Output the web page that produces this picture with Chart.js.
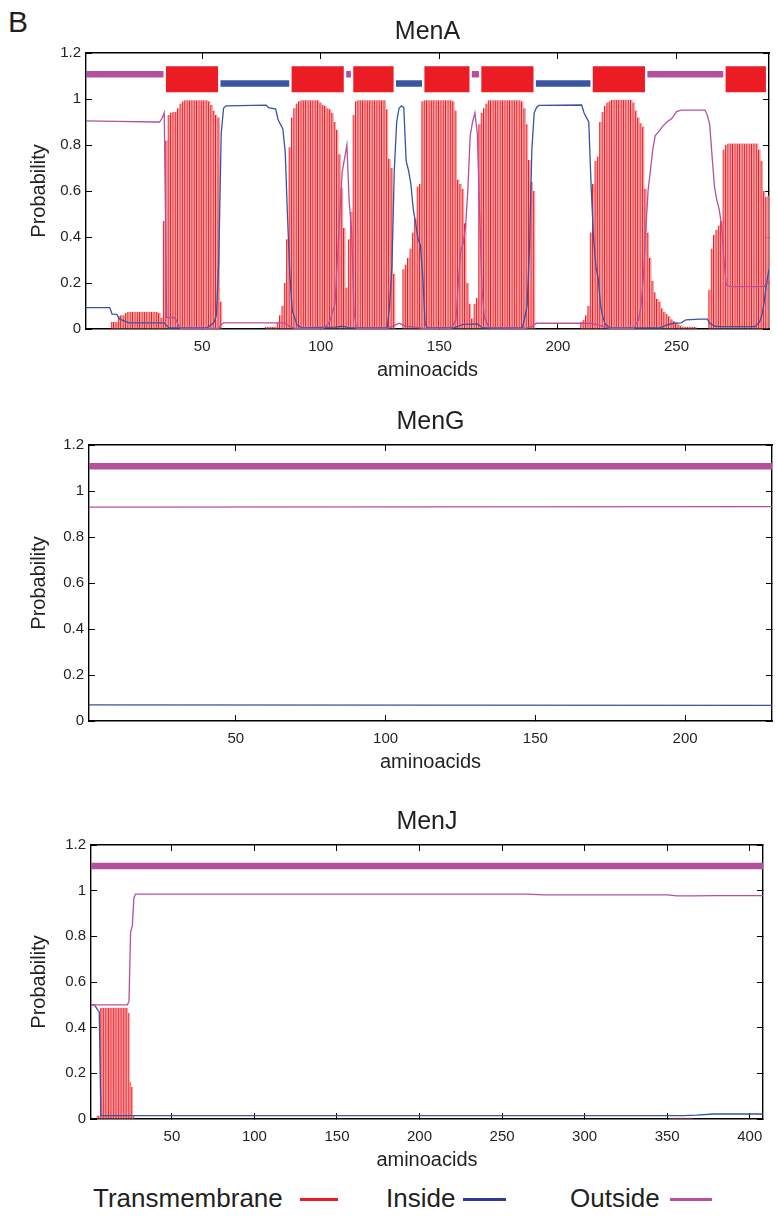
<!DOCTYPE html>
<html>
<head>
<meta charset="utf-8">
<script src="https://cdn.jsdelivr.net/npm/chart.js@4.4.1/dist/chart.umd.min.js"></script>
<style>
  html, body { margin: 0; padding: 0; background: #fff; }
  body { width: 777px; height: 1221px; position: relative; overflow: hidden;
         font-family: 'Liberation Sans', Arial, Helvetica, sans-serif; color: #231f20; }
  .panel { position: absolute; left: 0; width: 777px; height: 390px; }
  .txt { position: absolute; white-space: nowrap; line-height: 1; }
  .key { position: absolute; height: 3px; }
</style>
</head>
<body>
<div class="txt" style="left:8px;top:7px;font-size:30px">B</div>
<div class="panel" style="top:0"><canvas id="menA"></canvas></div>
<div class="panel" style="top:392px"><canvas id="menG"></canvas></div>
<div class="panel" style="top:792px"><canvas id="menJ"></canvas></div>

<div class="txt" style="left:93px;top:1185px;font-size:26px">Transmembrane</div>
<div class="key" style="left:300px;top:1198px;width:38px;background:#ec1c24"></div>
<div class="txt" style="left:386px;top:1185px;font-size:26px">Inside</div>
<div class="key" style="left:463px;top:1198px;width:43px;background:#2e3a94"></div>
<div class="txt" style="left:570px;top:1185px;font-size:26px">Outside</div>
<div class="key" style="left:670px;top:1198px;width:42px;background:#b6509e"></div>

<script>
/* Probabilidades de topologia transmembrana — MenA, MenG, MenJ */

const FONT = "'Liberation Sans', Arial, Helvetica, sans-serif";
const INK = '#231f20';
const RED = '#ec1c24';
const PINK = '#f7a3a5';
const BLUE = '#3653a5';
const MAGENTA = '#b6509e';

const Y_TICKS = [0, 0.2, 0.4, 0.6, 0.8, 1, 1.2];
const Y_TICK_LABELS = ['0', '0.2', '0.4', '0.6', '0.8', '1', '1.2'];

// ---- MenA (289 aa) ----
const MENA_RANGE = [1, 289];
const MENA_XTICKS = [50, 100, 150, 200, 250];
// transmembrane probability, residue 1..289
const MENA_TM = [
  0, 0, 0, 0, 0, 0, 0, 0, 0, 0,
  0, 0.03, 0.03, 0.03, 0.055, 0.06, 0.06, 0.07, 0.075, 0.075,
  0.075, 0.075, 0.075, 0.075, 0.075, 0.075, 0.075, 0.075, 0.075, 0.075,
  0.075, 0.07, 0.05, 0.47, 0.82, 0.93, 0.94, 0.945, 0.945, 0.96,
  0.98, 0.99, 0.995, 0.995, 0.995, 0.995, 0.995, 0.995, 0.995, 0.995,
  0.995, 0.995, 0.99, 0.975, 0.95, 0.93, 0.92, 0.12, 0, 0,
  0, 0, 0, 0, 0, 0, 0, 0, 0, 0,
  0, 0, 0, 0, 0, 0, 0.01, 0.01, 0.01, 0.01,
  0.01, 0.03, 0.06, 0.1, 0.2, 0.39, 0.79, 0.92, 0.96, 0.98,
  0.99, 0.995, 0.995, 0.995, 0.995, 0.995, 0.995, 0.995, 0.995, 0.985,
  0.975, 0.97, 0.96, 0.955, 0.94, 0.9, 0.865, 0.76, 0.615, 0.44,
  0.18, 0.39, 0.51, 0.93, 0.99, 0.995, 0.995, 0.995, 0.995, 0.995,
  0.995, 0.995, 0.995, 0.995, 0.995, 0.995, 0.995, 0.955, 0.74, 0.7,
  0.24, 0, 0, 0, 0.26, 0.28, 0.31, 0.35, 0.42, 0.48,
  0.62, 0.63, 0.99, 0.995, 0.995, 0.995, 0.995, 0.995, 0.995, 0.995,
  0.995, 0.995, 0.995, 0.995, 0.995, 0.99, 0.95, 0.65, 0.63, 0.61,
  0.46, 0.2, 0.11, 0.046, 0.11, 0.135, 0.89, 0.94, 0.96, 0.98,
  0.995, 0.995, 0.995, 0.995, 0.995, 0.995, 0.995, 0.995, 0.995, 0.995,
  0.995, 0.995, 0.995, 0.995, 0.99, 0.96, 0.89, 0.735, 0.64, 0.6,
  0, 0, 0, 0, 0, 0, 0, 0, 0, 0,
  0, 0, 0, 0, 0, 0, 0, 0, 0, 0.03,
  0.04, 0.06, 0.1, 0.42, 0.63, 0.73, 0.75, 0.9, 0.945, 0.97,
  0.985, 0.99, 0.997, 0.997, 0.997, 0.997, 0.997, 0.997, 0.997, 0.997,
  0.997, 0.985, 0.95, 0.92, 0.895, 0.88, 0.61, 0.42, 0.31, 0.21,
  0.16, 0.13, 0.12, 0.09, 0.075, 0.065, 0.055, 0.042, 0.035, 0.028,
  0.02, 0.015, 0.01, 0.01, 0.01, 0.01, 0.01, 0.01, 0, 0,
  0, 0, 0, 0.17, 0.35, 0.41, 0.43, 0.45, 0.47, 0.78,
  0.8, 0.807, 0.807, 0.807, 0.807, 0.807, 0.807, 0.807, 0.807, 0.807,
  0.807, 0.807, 0.807, 0.807, 0.78, 0.73, 0.6, 0.575, 0.58,
];
const MENA_TM_X = MENA_TM.map((v, i) => i + 1);

const MENA_IN_X = [1, 11, 12, 14, 15, 16, 19, 34, 35, 36, 52, 54, 55, 56, 57, 58, 59, 60, 77, 78,
  81, 82, 84, 85, 86, 87, 88, 90, 92, 106, 109, 112, 128, 129, 130, 131, 132, 133, 134, 135,
  136, 137, 138, 139, 140, 141, 142, 143, 144, 145, 156, 158, 160, 166, 167, 168, 185, 186, 187, 188,
  189, 190, 191, 192, 210, 211, 213, 214, 215, 216, 217, 218, 219, 220, 222, 243, 246, 249, 252, 254,
  260, 263, 264, 266, 268, 283, 285, 286, 287, 288, 289];
const MENA_IN_Y = [0.093, 0.093, 0.065, 0.064, 0.045, 0.04, 0.027, 0.027, 0.015, 0.005, 0.005, 0.02, 0.03, 0.06, 0.3, 0.85, 0.96, 0.97, 0.973, 0.962,
  0.956, 0.91, 0.87, 0.77, 0.48, 0.23, 0.08, 0.017, 0.005, 0.008, 0.012, 0.005, 0.005, 0.1, 0.27, 0.69, 0.9, 0.96, 0.97, 0.963,
  0.73, 0.69, 0.63, 0.52, 0.46, 0.39, 0.365, 0.227, 0.02, 0.005, 0.005, 0.012, 0.02, 0.022, 0.015, 0.005, 0.005, 0.05, 0.1, 0.35,
  0.78, 0.94, 0.963, 0.972, 0.974, 0.94, 0.9, 0.62, 0.4, 0.27, 0.22, 0.1, 0.05, 0.02, 0.005, 0.005, 0.018, 0.025, 0.027, 0.04,
  0.043, 0.043, 0.025, 0.013, 0.01, 0.01, 0.03, 0.06, 0.12, 0.2, 0.26];

const MENA_OUT_X = [1, 14, 30, 32, 33, 34, 35, 38, 39, 40, 41, 57, 58, 59, 83, 85, 87, 89, 101, 103,
  104, 106, 107, 108, 109, 110, 111, 112, 113, 114, 115, 128, 131, 133, 136, 140, 143, 155, 157, 158,
  159, 160, 161, 162, 163, 164, 165, 166, 167, 168, 169, 171, 186, 189, 190, 191, 214, 218, 222, 232,
  234, 235, 236, 237, 238, 239, 240, 241, 243, 244, 246, 248, 250, 252, 262, 263, 264, 265, 266, 267,
  268, 269, 270, 271, 273, 287, 288, 289];
const MENA_OUT_Y = [0.905, 0.903, 0.9, 0.9, 0.915, 0.94, 0.05, 0.05, 0.04, 0.015, 0.003, 0.003, 0.02, 0.027, 0.027, 0.025, 0.01, 0.003, 0.003, 0.02,
  0.04, 0.11, 0.3, 0.5, 0.68, 0.74, 0.8, 0.55, 0.43, 0.08, 0.003, 0.003, 0.015, 0.025, 0.012, 0.008, 0.003, 0.003, 0.04, 0.2,
  0.34, 0.37, 0.44, 0.6, 0.84, 0.9, 0.94, 0.85, 0.5, 0.17, 0.05, 0.005, 0.003, 0.01, 0.02, 0.025, 0.025, 0.015, 0.003, 0.003,
  0.04, 0.1, 0.22, 0.42, 0.6, 0.69, 0.78, 0.84, 0.865, 0.88, 0.9, 0.915, 0.945, 0.952, 0.952, 0.93, 0.89, 0.75, 0.62, 0.56,
  0.52, 0.45, 0.3, 0.19, 0.184, 0.184, 0.2, 0.21];

// predicted topology: kind, first and last residue of each segment
const MENA_TOPO_KIND = ['out', 'tm', 'in', 'tm', 'out', 'tm', 'in', 'tm', 'out', 'tm', 'in', 'tm', 'out', 'tm'];
const MENA_TOPO_FROM = [1, 35, 58, 88, 111, 114, 132, 144, 164, 168, 191, 215, 238, 271];
const MENA_TOPO_TO = [33, 56, 86, 109, 112, 130, 142, 162, 166, 189, 213, 236, 269, 287];

// ---- MenG (229 aa) ----
const MENG_RANGE = [1, 229];
const MENG_XTICKS = [50, 100, 150, 200];
const MENG_TM_X = [];
const MENG_TM = [];
const MENG_IN_X = [1, 229];
const MENG_IN_Y = [0.07, 0.068];
const MENG_OUT_X = [1, 229];
const MENG_OUT_Y = [0.93, 0.932];
const MENG_TOPO_KIND = ['out'];
const MENG_TOPO_FROM = [1];
const MENG_TOPO_TO = [229];

// ---- MenJ (408 aa) ----
const MENJ_RANGE = [1, 408];
const MENJ_XTICKS = [50, 100, 150, 200, 250, 300, 350, 400];
const MENJ_TM_X = [5, 6, 7, 8, 9, 10, 11, 12, 13, 14, 15, 16, 17, 18, 19, 20, 21, 22, 23, 24, 25, 26, 27,
  352, 353, 354, 355, 356, 357, 358, 359, 360, 361, 362, 363, 364, 365];
const MENJ_TM = [0.015, 0.015, 0.487, 0.487, 0.487, 0.487, 0.487, 0.487, 0.487, 0.487, 0.487, 0.487, 0.487, 0.487,
  0.487, 0.487, 0.487, 0.487, 0.487, 0.465, 0.163, 0.14, 0.012,
  0.006, 0.006, 0.006, 0.006, 0.006, 0.006, 0.006, 0.006, 0.006, 0.006, 0.006, 0.006, 0.006, 0.006];
const MENJ_IN_X = [1, 3, 4, 5, 6, 7, 360, 368, 378, 408];
const MENJ_IN_Y = [0.5, 0.5, 0.49, 0.478, 0.47, 0.015, 0.015, 0.017, 0.022, 0.022];
const MENJ_OUT_X = [1, 23, 24, 25, 26, 27, 28, 265, 275, 350, 356, 365, 380, 408];
const MENJ_OUT_Y = [0.5, 0.5, 0.515, 0.82, 0.845, 0.968, 0.985, 0.985, 0.982, 0.982, 0.977, 0.977, 0.978, 0.978];
const MENJ_TOPO_KIND = ['out'];
const MENJ_TOPO_FROM = [1];
const MENJ_TOPO_TO = [408];

/* estilo de la barra de topologia (nivel y grosor) */
const TOPO_STYLE = {
  out: { y: 1.108, width: 6.5, color: '#b5519c' },
  in: { y: 1.067, width: 6.5, color: '#3a55a4' },
  tm: { y: 1.086, width: 26, color: RED },
};

Chart.defaults.font.family = FONT;
Chart.defaults.color = INK;

function lineSet(xs, ys, color) {
  return {
    type: 'line',
    data: xs.map((x, i) => ({ x, y: ys[i] })),
    borderColor: color,
    borderWidth: 1.3,
    pointRadius: 0,
    tension: 0,
    fill: false,
    order: 1,
  };
}

function barSet(xs, ys) {
  return {
    type: 'bar',
    data: xs.map((x, i) => ({ x, y: ys[i] })),
    backgroundColor: PINK,
    borderColor: RED,
    borderWidth: { left: 1.1, right: 0, top: 0, bottom: 0 },
    borderSkipped: false,
    barPercentage: 1,
    categoryPercentage: 1,
    order: 2,
  };
}

function topoSets(kinds, from, to) {
  return Object.keys(TOPO_STYLE).map(kind => {
    const st = TOPO_STYLE[kind];
    const pts = [];
    kinds.forEach((k, i) => {
      if (k !== kind) return;
      const a = from[i] - 0.3, b = to[i] + 0.7;
      pts.push({ x: a, y: st.y }, { x: b, y: st.y }, { x: b, y: null });
    });
    return {
      type: 'line', data: pts, borderColor: st.color, borderWidth: st.width,
      borderCapStyle: 'butt', pointRadius: 0, spanGaps: false, order: 0,
    };
  }).filter(d => d.data.length);
}

function makePanel(id, p) {
  const tickX = s => { s.ticks = p.xTicks.map(v => ({ value: v })); };
  const tickY = s => { s.ticks = Y_TICKS.map(v => ({ value: v })); };
  const edge = { display: true, color: '#000', width: 1.4 };
  const inward = { display: true, drawOnChartArea: false, drawTicks: true, tickLength: -6, color: '#000', lineWidth: 1 };

  const datasets = [
    ...topoSets(p.topoKind, p.topoFrom, p.topoTo),
    lineSet(p.outX, p.outY, MAGENTA),
    lineSet(p.inX, p.inY, BLUE),
  ];
  if (p.tmX.length) datasets.push(barSet(p.tmX, p.tm));

  return new Chart(document.getElementById(id), {
    type: 'line',
    data: { datasets },
    options: {
      responsive: true,
      maintainAspectRatio: false,
      animation: false,
      events: [],
      layout: { padding: { left: 0, top: 0, right: 777 - p.plotRight, bottom: p.padBottom } },
      plugins: {
        legend: { display: false },
        tooltip: { enabled: false },
        title: {
          display: true, text: p.title, fullSize: false, color: INK,
          font: { size: 25, weight: 'normal' }, padding: p.titlePad,
        },
      },
      scales: {
        x: {
          type: 'linear', position: 'bottom', min: p.range[0], max: p.range[1], offset: false,
          grid: { ...inward, offset: false }, border: edge,
          ticks: { font: { size: 15 }, color: INK, padding: 14.5, maxRotation: 0, autoSkip: false,
                   callback: v => String(v) },
          title: { display: true, text: 'aminoacids', color: INK, font: { size: 20 }, padding: 0 },
          afterBuildTicks: tickX,
          afterFit: s => { s.height = 53; },
        },
        x2: {
          type: 'linear', position: 'top', min: p.range[0], max: p.range[1], offset: false,
          grid: { ...inward, offset: false }, border: edge,
          ticks: { display: false },
          afterBuildTicks: tickX,
          afterFit: s => { s.height = 0; },
        },
        y: {
          type: 'linear', position: 'left', min: 0, max: 1.2,
          grid: inward, border: edge,
          ticks: { font: { size: 15 }, color: INK, padding: 11,
                   callback: (v, i) => Y_TICK_LABELS[i] },
          title: { display: true, text: 'Probability', color: INK, font: { size: 20 },
                   padding: { top: 27, bottom: 0 } },
          afterBuildTicks: tickY,
          afterFit: s => { s.width = p.plotLeft; },
        },
        y2: {
          type: 'linear', position: 'right', min: 0, max: 1.2,
          grid: inward, border: edge,
          ticks: { display: false },
          afterBuildTicks: tickY,
          afterFit: s => { s.width = 0; },
        },
      },
    },
  });
}

makePanel('menA', {
  title: 'MenA', range: MENA_RANGE, xTicks: MENA_XTICKS,
  tmX: MENA_TM_X, tm: MENA_TM,
  inX: MENA_IN_X, inY: MENA_IN_Y, outX: MENA_OUT_X, outY: MENA_OUT_Y,
  topoKind: MENA_TOPO_KIND, topoFrom: MENA_TOPO_FROM, topoTo: MENA_TOPO_TO,
  plotLeft: 86, plotRight: 769, padBottom: 8, titlePad: { top: 17, bottom: 6 },
});

makePanel('menG', {
  title: 'MenG', range: MENG_RANGE, xTicks: MENG_XTICKS,
  tmX: MENG_TM_X, tm: MENG_TM,
  inX: MENG_IN_X, inY: MENG_IN_Y, outX: MENG_OUT_X, outY: MENG_OUT_Y,
  topoKind: MENG_TOPO_KIND, topoFrom: MENG_TOPO_FROM, topoTo: MENG_TOPO_TO,
  plotLeft: 89, plotRight: 772, padBottom: 8, titlePad: { top: 15, bottom: 8 },
});

makePanel('menJ', {
  title: 'MenJ', range: MENJ_RANGE, xTicks: MENJ_XTICKS,
  tmX: MENJ_TM_X, tm: MENJ_TM,
  inX: MENJ_IN_X, inY: MENJ_IN_Y, outX: MENJ_OUT_X, outY: MENJ_OUT_Y,
  topoKind: MENJ_TOPO_KIND, topoFrom: MENJ_TOPO_FROM, topoTo: MENJ_TOPO_TO,
  plotLeft: 91, plotRight: 773, padBottom: 10, titlePad: { top: 15, bottom: 8 },
});
</script>
</body>
</html>
